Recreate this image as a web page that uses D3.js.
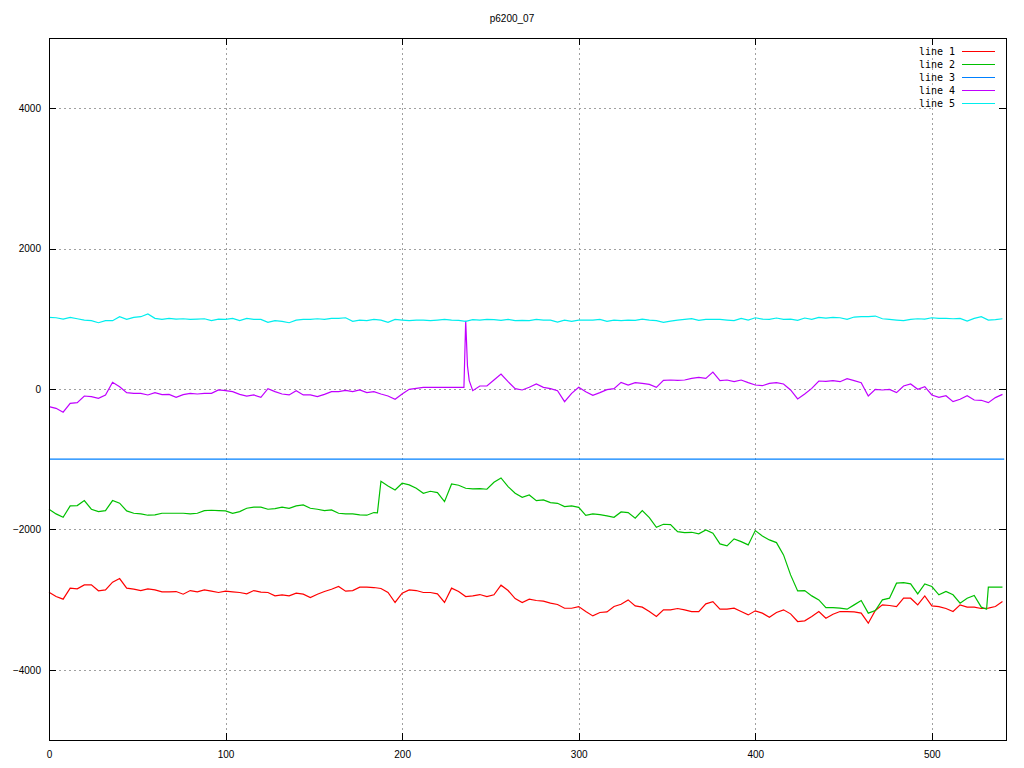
<!DOCTYPE html>
<html>
<head>
<meta charset="utf-8">
<script src="https://cdn.jsdelivr.net/npm/d3@7"></script>
<style>
  html, body { margin: 0; padding: 0; background: #fff; }
  svg { display: block; }
</style>
</head>
<body>
<svg id="chart" width="1024" height="768"></svg>
<script>
// ---------------- data ----------------
const title = "p6200_07";
const seriesNames = ["line 1", "line 2", "line 3", "line 4", "line 5"];
const seriesColors = ["#ff0000", "#00c000", "#0080ff", "#c000ff", "#00eeee"];
const xTicks = [0, 100, 200, 300, 400, 500];
const yTicks = [-4000, -2000, 0, 2000, 4000];
const xDomain = [0, 542];
const yDomain = [-5000, 5000];

// sample positions (every 4 samples)
const sampleX = d3.range(0, 541, 4);

const line1 = [
  -2894,-2956,-2994,-2837,-2847,-2790,-2790,-2875,-2861,-2752,-2700,-2837,-2852,-2871,-2847,-2861,-2890,-2890,-2885,-2923,
  -2871,-2890,-2861,-2880,-2899,-2880,-2890,-2899,-2918,-2871,-2894,-2899,-2947,-2932,-2947,
  -2909,-2923,-2970,-2923,-2885,-2852,-2814,-2880,-2871,-2823,-2823,-2828,-2842,-2899,-3041,-2909,-2861,-2871,-2899,-2899,
  -2918,-3041,-2837,-2885,-2956,-2947,-2928,-2956,-2932,-2795,-2871,-2985,-3041,-2994,
  -3013,-3023,-3051,-3070,-3123,-3123,-3099,-3170,-3232,-3184,-3175,-3099,-3066,-3004,-3089,-3108,-3170,-3241,-3146,-3146,
  -3127,-3146,-3170,-3170,-3061,-3028,-3137,-3137,-3123,-3170,-3218,-3160,-3193,-3251,
  -3184,-3146,-3203,-3312,-3303,-3241,-3170,-3265,-3208,-3170,-3170,-3174,-3193,-3336,-3155,-3075,-3084,-3099,-2980,-2980,
  -3075,-2947,-3089,-3099,-3127,-3170,-3075,-3108,-3108,-3127,-3122,-3099,-3028
];

const line2 = [
  -1713,-1779,-1827,-1665,-1661,-1589,-1713,-1746,-1732,-1589,-1627,-1737,-1770,-1779,-1798,-1793,-1770,-1770,-1770,-1770,
  -1779,-1770,-1732,-1727,-1732,-1737,-1770,-1746,-1699,-1684,-1684,-1713,-1703,-1684,-1699,
  -1665,-1651,-1699,-1713,-1732,-1722,-1770,-1779,-1779,-1793,-1798,-1760,-1314,-1381,-1438,-1343,-1366,-1414,-1485,-1457,
  -1476,-1604,-1352,-1371,-1414,-1423,-1419,-1428,-1328,-1267,-1390,-1485,-1542,-1509,
  -1590,-1580,-1618,-1628,-1675,-1666,-1685,-1799,-1780,-1789,-1808,-1827,-1751,-1761,-1841,-1732,-1832,-1970,-1927,-1932,
  -2031,-2045,-2041,-2064,-2007,-2055,-2207,-2235,-2136,-2174,-2221,-2017,-2093,-2150,
  -2188,-2363,-2648,-2876,-2871,-2947,-3004,-3113,-3113,-3122,-3137,-3075,-3013,-3193,-3155,-3004,-2980,-2766,-2757,-2776,
  -2918,-2776,-2814,-2932,-2885,-2932,-3051,-2980,-2942,-3108,-2823,-2823,-2823
];
// extra samples around the jumps of line 2
const line2ExtraX = [186, 531];
const line2ExtraY = [-1765, -3137];

const line3X = [0, 541];
const line3 = [-1000, -1000];

const line4 = [
  -251,-275,-330,-204,-195,-100,-109,-133,-85,95,33,-52,-62,-62,-85,-52,-81,-76,-119,-81,
  -62,-71,-62,-62,-14,-24,-38,-76,-100,-85,-119,5,-38,-71,-85,
  -24,-85,-85,-109,-76,-38,-38,-19,-38,-14,-52,-38,-71,-100,-147,-71,-5,9,24,24,
  24,24,24,24,972,-24,43,43,128,213,104,5,-14,24,
  71,24,5,-24,-180,-62,24,-38,-90,-52,-9,5,95,57,90,81,66,24,123,128,
  123,128,152,166,152,242,119,128,104,128,90,57,47,81,
  90,71,-14,-142,-71,9,114,109,119,104,147,119,90,-100,-5,-14,-5,-52,43,71,
  -5,33,-85,-119,-95,-180,-147,-95,-157,-161,-195,-123,-76
];
// extra samples around the spike of line 4
const line4ExtraX = [235, 237, 238];
const line4ExtraY = [24, 330, 120];

const line5 = [
  1020,1015,996,1020,1001,982,973,944,973,973,1030,992,1020,1030,1070,1006,992,1006,996,1001,
  992,996,1001,973,996,992,1006,973,1006,992,992,949,973,963,944,
  982,992,992,1001,992,1006,1006,1015,963,982,973,992,982,949,992,982,973,982,982,973,
  982,992,982,977,963,987,982,992,987,977,992,973,977,973,
  992,982,982,954,982,963,982,982,982,992,963,982,973,982,977,996,982,973,949,968,
  982,992,1001,977,992,992,992,982,973,1006,982,1015,996,992,
  1011,992,996,977,1011,992,1020,1011,1020,1015,992,1025,1030,1030,1039,1001,992,982,973,992,
  1001,996,1015,1006,1006,1001,1006,968,1006,1030,982,987,1001
];

// ---------------- build ----------------
function pairs(xs, ys, exX = [], exY = []) {
  const p = xs.map((x, i) => [x, ys[i]]);
  exX.forEach((x, i) => p.push([x, exY[i]]));
  return p.sort((a, b) => a[0] - b[0]);
}
const series = [
  pairs(sampleX, line1),
  pairs(sampleX, line2, line2ExtraX, line2ExtraY),
  pairs(line3X, line3),
  pairs(sampleX, line4, line4ExtraX, line4ExtraY),
  pairs(sampleX, line5)
];

const L = 49, R = 1006, T = 38, B = 740;
const svg = d3.select("#chart");
svg.append("rect").attr("width", 1024).attr("height", 768).attr("fill", "#fff");

const x = d3.scaleLinear().domain(xDomain).range([L, R]);
const y = d3.scaleLinear().domain(yDomain).range([B, T]);

// grid
const grid = svg.append("g").attr("stroke", "#a0a0a0").attr("stroke-width", 1)
  .attr("stroke-dasharray", "2,3").attr("shape-rendering", "crispEdges");
grid.selectAll("line.gx").data(xTicks.filter(d => d > xDomain[0])).join("line")
  .attr("x1", d => Math.round(x(d)) + 0.5).attr("x2", d => Math.round(x(d)) + 0.5)
  .attr("y1", T).attr("y2", B);
grid.selectAll("line.gy").data(yTicks).join("line")
  .attr("y1", d => Math.round(y(d)) + 0.5).attr("y2", d => Math.round(y(d)) + 0.5)
  .attr("x1", L).attr("x2", R);

// data lines
const lineGen = d3.line().x(d => x(d[0])).y(d => y(d[1]));
const plot = svg.append("g");
series.forEach((s, i) => {
  plot.append("path").datum(s).attr("d", lineGen)
    .attr("fill", "none").attr("stroke", seriesColors[i]).attr("stroke-width", 1.2);
});

// legend (opaque box)
svg.append("rect").attr("x", 933).attr("y", T + 1).attr("width", R - 933 - 1).attr("height", 72).attr("fill", "#fff");
const leg = svg.append("g").attr("font-family", "DejaVu Sans Mono, monospace").attr("font-size", 10);
seriesNames.forEach((n, i) => {
  const yy = 51 + i * 13;
  leg.append("text").attr("x", 955).attr("y", yy).attr("dy", "0.35em")
    .attr("text-anchor", "end").attr("fill", "#000").text(n);
  leg.append("line").attr("x1", 962).attr("x2", 995).attr("y1", yy + 0.5).attr("y2", yy + 0.5)
    .attr("stroke", seriesColors[i]).attr("stroke-width", 1.2);
});

// axes
const fontFam = "Liberation Sans, Arial, sans-serif";
function styleAxis(g) {
  g.select(".domain").remove();
  g.selectAll("line").attr("stroke", "#000").attr("shape-rendering", "crispEdges");
  g.selectAll("text").attr("font-family", fontFam).attr("font-size", 10).attr("fill", "#000");
}
svg.append("g").attr("transform", `translate(${L},0)`)
  .call(d3.axisLeft(y).tickValues(yTicks).tickSize(-7).tickPadding(8).tickFormat(d3.format("d")))
  .call(styleAxis);
svg.append("g").attr("transform", `translate(${R},0)`)
  .call(d3.axisRight(y).tickValues(yTicks).tickSize(-7).tickFormat(""))
  .call(styleAxis);
svg.append("g").attr("transform", `translate(0,${B})`)
  .call(d3.axisBottom(x).tickValues(xTicks).tickSize(-7).tickPadding(11).tickFormat(d3.format("d")))
  .call(styleAxis);
svg.append("g").attr("transform", `translate(0,${T})`)
  .call(d3.axisTop(x).tickValues(xTicks).tickSize(-7).tickFormat(""))
  .call(styleAxis);

// border
svg.append("rect").attr("x", L + 0.5).attr("y", T + 0.5).attr("width", R - L).attr("height", B - T)
  .attr("fill", "none").attr("stroke", "#000").attr("stroke-width", 1).attr("shape-rendering", "crispEdges");

// title
svg.append("text").attr("x", 512).attr("y", 22).attr("text-anchor", "middle")
  .attr("font-family", fontFam).attr("font-size", 10).attr("fill", "#000").text(title);
</script>
</body>
</html>
